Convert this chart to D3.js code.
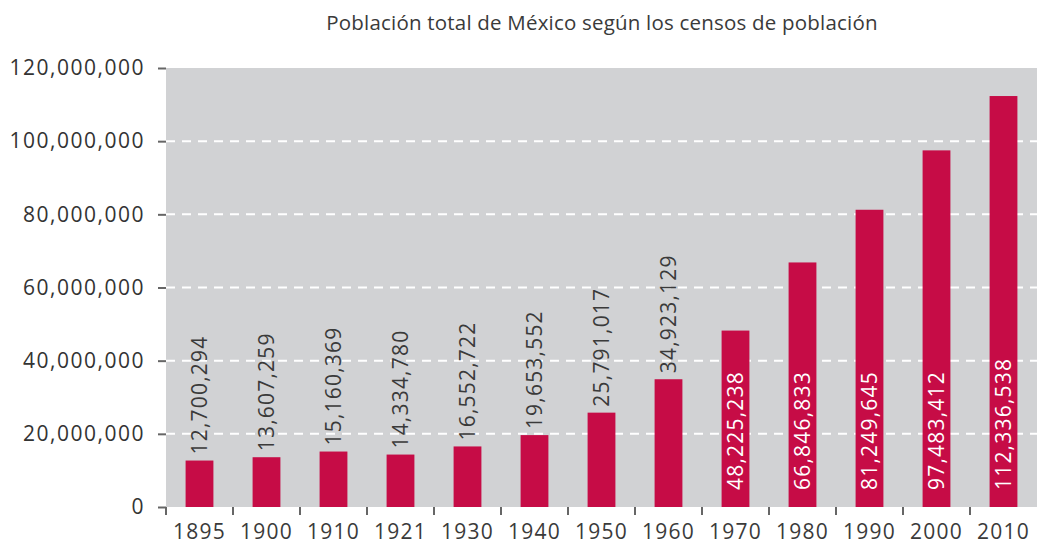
<!DOCTYPE html>
<html><head><meta charset="utf-8">
<script src="https://cdn.jsdelivr.net/npm/d3@7"></script>
<style>
body{margin:0;background:#fff;}
text{font-family:"Open Sans",sans-serif;fill:#333;font-weight:400;}
</style></head>
<body>
<svg id="chart" width="1037" height="545"></svg>
<script>
const years = ["1895","1900","1910","1921","1930","1940","1950","1960","1970","1980","1990","2000","2010"];
const population = [12700294,13607259,15160369,14334780,16552722,19653552,25791017,34923129,48225238,66846833,81249645,97483412,112336538];
const yTicks = [0,20000000,40000000,60000000,80000000,100000000,120000000];
const title = "Población total de México según los censos de población";

const svg = d3.select("#chart");
const m = {left:166, right:0, top:68, bottom:38};
const W = 1037, H = 545;
const x = d3.scaleBand().domain(years).range([m.left, W - m.right]).paddingInner(0.585).paddingOuter(0.2925);
const y = d3.scaleLinear().domain([0,120000000]).range([H - m.bottom, m.top]);
const fmt = d3.format(",");

svg.append("rect").attr("x", m.left).attr("y", m.top).attr("width", W - m.right - m.left).attr("height", y(0) - m.top).attr("fill", "#d1d2d4");

svg.append("g").selectAll("line").data(yTicks.filter(d => d > 0 && d < 120000000)).join("line")
  .attr("x1", m.left).attr("x2", W).attr("y1", d => y(d)).attr("y2", d => y(d))
  .attr("stroke", "#fff").attr("stroke-width", 2).attr("stroke-dasharray", "9,7");

svg.append("g").selectAll("rect").data(years).join("rect")
  .attr("x", d => x(d)).attr("width", x.bandwidth())
  .attr("y", (d,i) => y(population[i])).attr("height", (d,i) => y(0) - y(population[i]))
  .attr("fill", "#c60c46");

// y axis
const yAxis = d3.axisLeft(y).tickValues(yTicks).tickFormat(fmt).tickSize(8).tickPadding(13);
const gy = svg.append("g").attr("transform", `translate(${m.left},0)`).call(yAxis);
gy.select(".domain").remove();
gy.selectAll("line").attr("stroke", "#666").attr("stroke-width", 2);
gy.selectAll("text").attr("font-size", 21).attr("letter-spacing", 1.5).attr("fill", "#3a3a3a").style("font-family", "'Open Sans',sans-serif").style("font-weight", 400);

// x axis ticks at band boundaries
const gx = svg.append("g");
gx.selectAll("line").data(years).join("line")
  .attr("x1", d => x(d) - x.step()*x.paddingInner()/2).attr("x2", d => x(d) - x.step()*x.paddingInner()/2)
  .attr("y1", y(0)).attr("y2", y(0) + 8).attr("stroke", "#666").attr("stroke-width", 2);
gx.selectAll("text").data(years).join("text")
  .attr("x", d => x(d) + x.bandwidth()/2).attr("y", H - 6)
  .attr("text-anchor", "middle").attr("font-size", 21).attr("letter-spacing", 1.3).style("fill", "#3a3a3a").text(d => d);

// value labels
svg.append("g").selectAll("text").data(years).join("text")
  .attr("transform", (d,i) => {
    const cx = x(d) + x.bandwidth()/2;
    const inside = population[i] > 40000000;
    const yy = inside ? y(0) - 17 : y(population[i]) - 6;
    return `translate(${cx},${yy}) rotate(-90)`;
  })
  .attr("dy", "0.35em").attr("font-size", 21).attr("letter-spacing", 1.2)
  .style("fill", (d,i) => population[i] > 40000000 ? "#fff" : "#3a3a3a")
  .text((d,i) => fmt(population[i]));

svg.append("text").attr("x", 602).attr("y", 30).attr("text-anchor", "middle").attr("font-size", 20.5).attr("letter-spacing", 0.2).style("fill", "#3a3a3a").text(title);
</script>
</body></html>
